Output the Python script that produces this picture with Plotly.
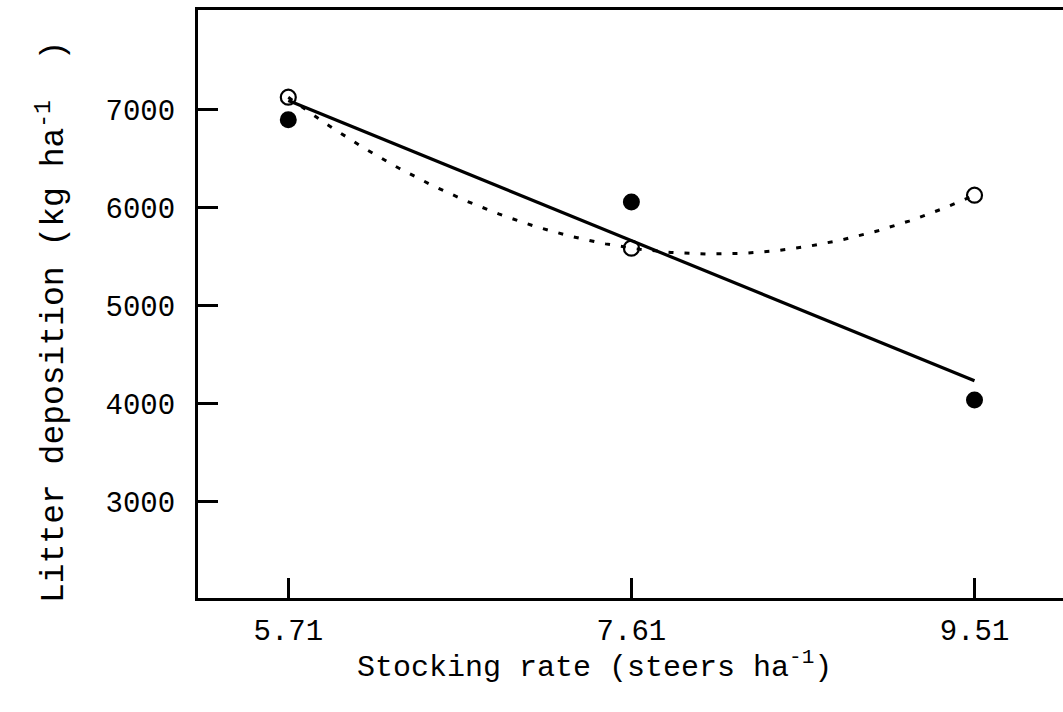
import numpy as np
import plotly.graph_objects as go

# Data
stocking_rate = [5.71, 7.61, 9.51]
open_values = [7130, 5590, 6130]     # open circles (quadratic, dotted)
filled_values = [6900, 6060, 4040]   # filled circles (linear, solid)
x_tick_labels = ["5.71", "7.61", "9.51"]
y_tick_values = [3000, 4000, 5000, 6000, 7000]
x_title = "Stocking rate (steers ha<sup>-1</sup>)"
y_title = "Litter deposition (kg ha<sup>-1</sup>  )"

FONT = "Liberation Mono, Courier New, monospace"

# Fits
lin = np.polyfit(stocking_rate, filled_values, 1)
quad = np.polyfit(stocking_rate, open_values, 2)
xs_line = np.array([stocking_rate[0], stocking_rate[-1]])
xs_curve = np.linspace(stocking_rate[0], stocking_rate[-1], 200)

fig = go.Figure()
fig.add_trace(go.Scatter(x=xs_curve, y=np.polyval(quad, xs_curve), mode="lines",
                         line=dict(color="black", width=3, dash="5px,11px"),
                         hoverinfo="skip", showlegend=False))
fig.add_trace(go.Scatter(x=xs_line, y=np.polyval(lin, xs_line), mode="lines",
                         line=dict(color="black", width=3.2),
                         hoverinfo="skip", showlegend=False))
fig.add_trace(go.Scatter(x=stocking_rate, y=filled_values, mode="markers",
                         marker=dict(symbol="circle", size=17, color="black"),
                         showlegend=False))
fig.add_trace(go.Scatter(x=stocking_rate, y=open_values, mode="markers",
                         marker=dict(symbol="circle-open", size=15, color="black",
                                     line=dict(width=2.2, color="black")),
                         showlegend=False))

fig.update_layout(
    width=1063, height=712,
    margin=dict(l=198, r=0, t=10, b=114),
    paper_bgcolor="white", plot_bgcolor="white",
    font=dict(family=FONT, size=29, color="black"),
    xaxis=dict(
        range=[5.21, 10.0],
        tickmode="array", tickvals=stocking_rate, ticktext=x_tick_labels,
        ticks="inside", ticklen=20, tickwidth=2.5, tickcolor="black",
        showline=True, linewidth=3, linecolor="black", mirror=True,
        showgrid=False, zeroline=False,
        ticklabelstandoff=4,
        tickfont=dict(family=FONT, size=29),
    ),
    yaxis=dict(
        range=[2020, 8020],
        tickmode="array", tickvals=y_tick_values,
        ticks="inside", ticklen=20, tickwidth=2.5, tickcolor="black",
        showline=True, linewidth=3, linecolor="black", mirror=False,
        showgrid=False, zeroline=False,
        ticklabelstandoff=14,
        tickfont=dict(family=FONT, size=29),
    ),
    annotations=[
        dict(text=x_title, xref="paper", yref="paper", x=0.458, y=-0.114,
             xanchor="center", yanchor="middle", showarrow=False,
             font=dict(family=FONT, size=30, color="black")),
        dict(text=y_title, xref="paper", yref="paper", x=-0.169, y=0.469,
             xanchor="center", yanchor="middle", textangle=-90, showarrow=False,
             font=dict(family=FONT, size=33, color="black")),
    ],
)

fig.write_html("out.html", config={"displayModeBar": False},
               post_script="document.body.style.margin='0';document.body.style.overflow='hidden';")
